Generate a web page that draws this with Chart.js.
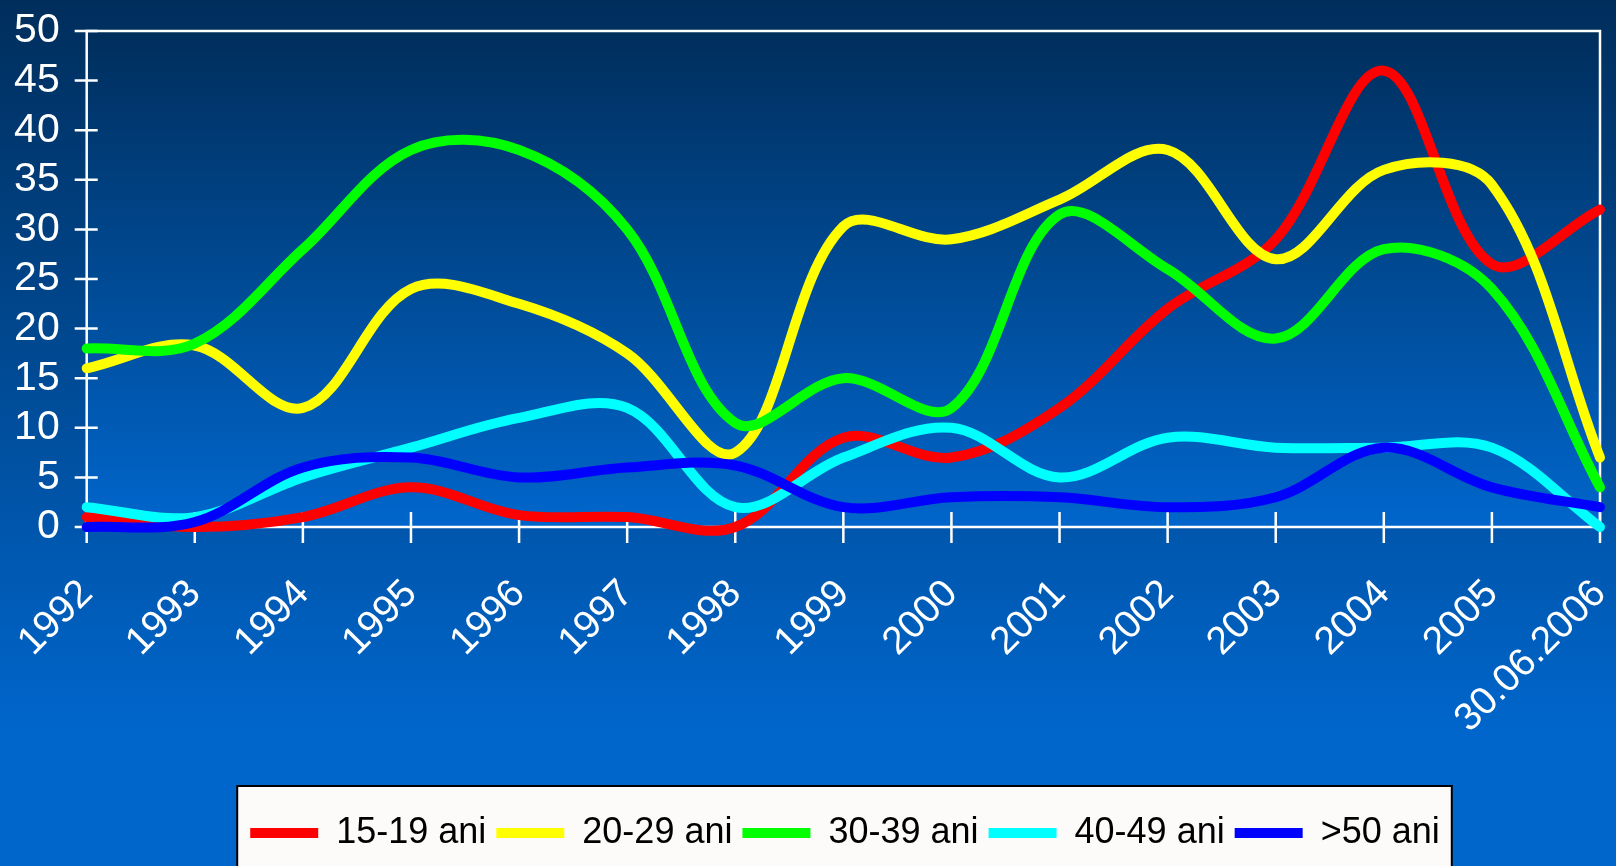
<!DOCTYPE html>
<html>
<head>
<meta charset="utf-8">
<script src="https://cdn.jsdelivr.net/npm/chart.js@4.4.1/dist/chart.umd.min.js"></script>
<style>
  html, body { margin: 0; padding: 0; background: #0066cc; overflow: hidden; }
  #wrap { width: 1616px; height: 866px; position: relative; }
</style>
</head>
<body>
<div id="wrap"><canvas id="chart"></canvas></div>
<script>
// categorii si valori (procente)
const years = ['1992', '1993', '1994', '1995', '1996', '1997', '1998', '1999',
  '2000', '2001', '2002', '2003', '2004', '2005', '30.06.2006'];
const ani15_19 = [1, 0, 1, 4, 1.2, 1, 0, 9, 7, 12, 22, 29, 46, 26.5, 32];
const ani20_29 = [16, 18.3, 12, 24, 22.5, 17.5, 7.5, 30.3, 29, 33, 38, 27, 36, 34.5, 7];
const ani30_39 = [18, 18.5, 28, 38, 38, 30, 10.5, 15, 12, 31.5, 26, 19, 28, 24, 4];
const ani40_49 = [2, 1, 5, 8, 11, 12, 2, 7, 10, 5, 9, 8, 8, 8, 0];
const ani50 = [0, 0.5, 6, 7, 5, 6, 6.2, 2, 3, 3, 2, 3, 8, 4, 2];
const seriesNames = ['15-19 ani', '20-29 ani', '30-39 ani', '40-49 ani', '>50 ani'];
const seriesColors = ['#ff0000', '#ffff00', '#00ff00', '#00ffff', '#0000ff'];
const yTicks = [0, 5, 10, 15, 20, 25, 30, 35, 40, 45, 50];

const FONT = "'Liberation Sans', Arial, sans-serif";
const CHART_BOTTOM = 527;
const LEGEND_SHIFT_X = 45;
const LEGEND_SHIFT_Y = -5;

function makeSet(i, values){
    return {
        label: seriesNames[i],
        data: values,
        borderColor: seriesColors[i],
        backgroundColor: seriesColors[i],
        borderWidth: 10,
        borderCapStyle: 'round',
        borderJoinStyle: 'round',
        pointRadius: 0,
        pointHoverRadius: 0,
        tension: 0.35,
        clip: false,
        order: 4 - i
    }
}

// fundal cu degrade + caseta alba a legendei
const background = {
    id: 'background',
    afterLayout(chart){
        // legenda e putin decalata fata de centru in original
        const legend = chart.legend
        legend.left += LEGEND_SHIFT_X
        legend.right += LEGEND_SHIFT_X
        legend.top += LEGEND_SHIFT_Y
        legend.bottom += LEGEND_SHIFT_Y
        legend.legendHitBoxes.forEach(b => {
            b.left += LEGEND_SHIFT_X
            b.top += LEGEND_SHIFT_Y
        })
    },
    beforeDraw(chart){
        const ctx = chart.ctx
        const area = chart.chartArea
        ctx.save()
        let g = ctx.createLinearGradient(0, 0, 0, chart.height)
        g.addColorStop(0, '#002e5c')
        g.addColorStop(0.85, '#0066cc')
        g.addColorStop(1, '#0066cc')
        ctx.fillStyle = g
        ctx.fillRect(0, 0, chart.width, chart.height)
        g = ctx.createLinearGradient(0, area.top, 0, area.bottom)
        g.addColorStop(0, '#002e5c')
        g.addColorStop(1, '#0066cc')
        ctx.fillStyle = g
        ctx.fillRect(area.left, area.top, area.right - area.left, area.bottom - area.top)

        const boxes = chart.legend.legendHitBoxes
        if(boxes && boxes.length){
            const first = boxes[0]
            const last = boxes[boxes.length - 1]
            const top = first.top + first.height / 2 - 42
            const left = first.left - 13
            const right = last.left + last.width + 12
            ctx.fillStyle = '#fdfafa'
            ctx.fillRect(left, top, right - left, chart.height - top + 10)
            ctx.strokeStyle = '#000000'
            ctx.lineWidth = 2
            ctx.strokeRect(left, top, right - left, chart.height - top + 10)
        }
        ctx.restore()
    }
}

// axe albe cu liniute care traverseaza axa, chenar sus si dreapta
const axes = {
    id: 'axes',
    beforeDatasetsDraw(chart){
        const ctx = chart.ctx
        const area = chart.chartArea
        const x = chart.scales.x
        const y = chart.scales.y
        ctx.save()
        ctx.strokeStyle = '#ffffff'
        ctx.lineWidth = 2.5
        ctx.beginPath()
        ctx.moveTo(area.left, area.top)
        ctx.lineTo(area.right, area.top)
        ctx.lineTo(area.right, area.bottom)
        ctx.lineTo(area.left, area.bottom)
        ctx.closePath()
        ctx.stroke()
        ctx.beginPath()
        y.ticks.forEach((t, i) => {
            const py = y.getPixelForTick(i)
            ctx.moveTo(area.left - 12, py)
            ctx.lineTo(area.left + 11, py)
        })
        x.ticks.forEach((t, i) => {
            const px = x.getPixelForTick(i)
            ctx.moveTo(px, area.bottom - 15)
            ctx.lineTo(px, area.bottom + 16)
        })
        ctx.stroke()
        ctx.restore()
    }
}

const chart = new Chart(document.getElementById('chart'), {
    type: 'line',
    data: {
        labels: years,
        datasets: [
            makeSet(0, ani15_19),
            makeSet(1, ani20_29),
            makeSet(2, ani30_39),
            makeSet(3, ani40_49),
            makeSet(4, ani50)
        ]
    },
    options: {
        responsive: true,
        maintainAspectRatio: false,
        devicePixelRatio: 1,
        animation: false,
        layout: { padding: { left: 0, right: 16, top: 31, bottom: 0 } },
        elements: { line: { capBezierPoints: false } },
        scales: {
            x: {
                offset: false,
                grid: { display: false },
                border: { display: false },
                ticks: {
                    color: '#ffffff',
                    font: { family: FONT, size: 39 },
                    minRotation: 45,
                    maxRotation: 45,
                    padding: 36,
                    autoSkip: false
                },
                afterFit(scale){
                    const legendH = scale.chart.legend ? scale.chart.legend.height : 73
                    scale.height = 866 - CHART_BOTTOM - legendH
                    scale.paddingLeft = 0
                    scale.paddingRight = 0
                }
            },
            y: {
                min: 0,
                max: 50,
                grid: { display: false },
                border: { display: false },
                afterBuildTicks(scale){
                    scale.ticks = yTicks.map(v => ({ value: v }))
                },
                ticks: {
                    color: '#ffffff',
                    font: { family: FONT, size: 41 },
                    padding: 19,
                    autoSkip: false
                },
                afterFit(scale){
                    scale.width = 86.7
                    scale.paddingTop = 0
                    scale.paddingBottom = 0
                }
            }
        },
        plugins: {
            legend: {
                position: 'bottom',
                labels: {
                    color: '#000000',
                    font: { family: FONT, size: 36 },
                    usePointStyle: true,
                    pointStyle: 'line',
                    pointStyleWidth: 68,
                    boxHeight: 11,
                    padding: 10,
                    sort: (a, b) => a.datasetIndex - b.datasetIndex
                }
            },
            tooltip: { enabled: false }
        }
    },
    plugins: [background, axes]
})
</script>
</body>
</html>
